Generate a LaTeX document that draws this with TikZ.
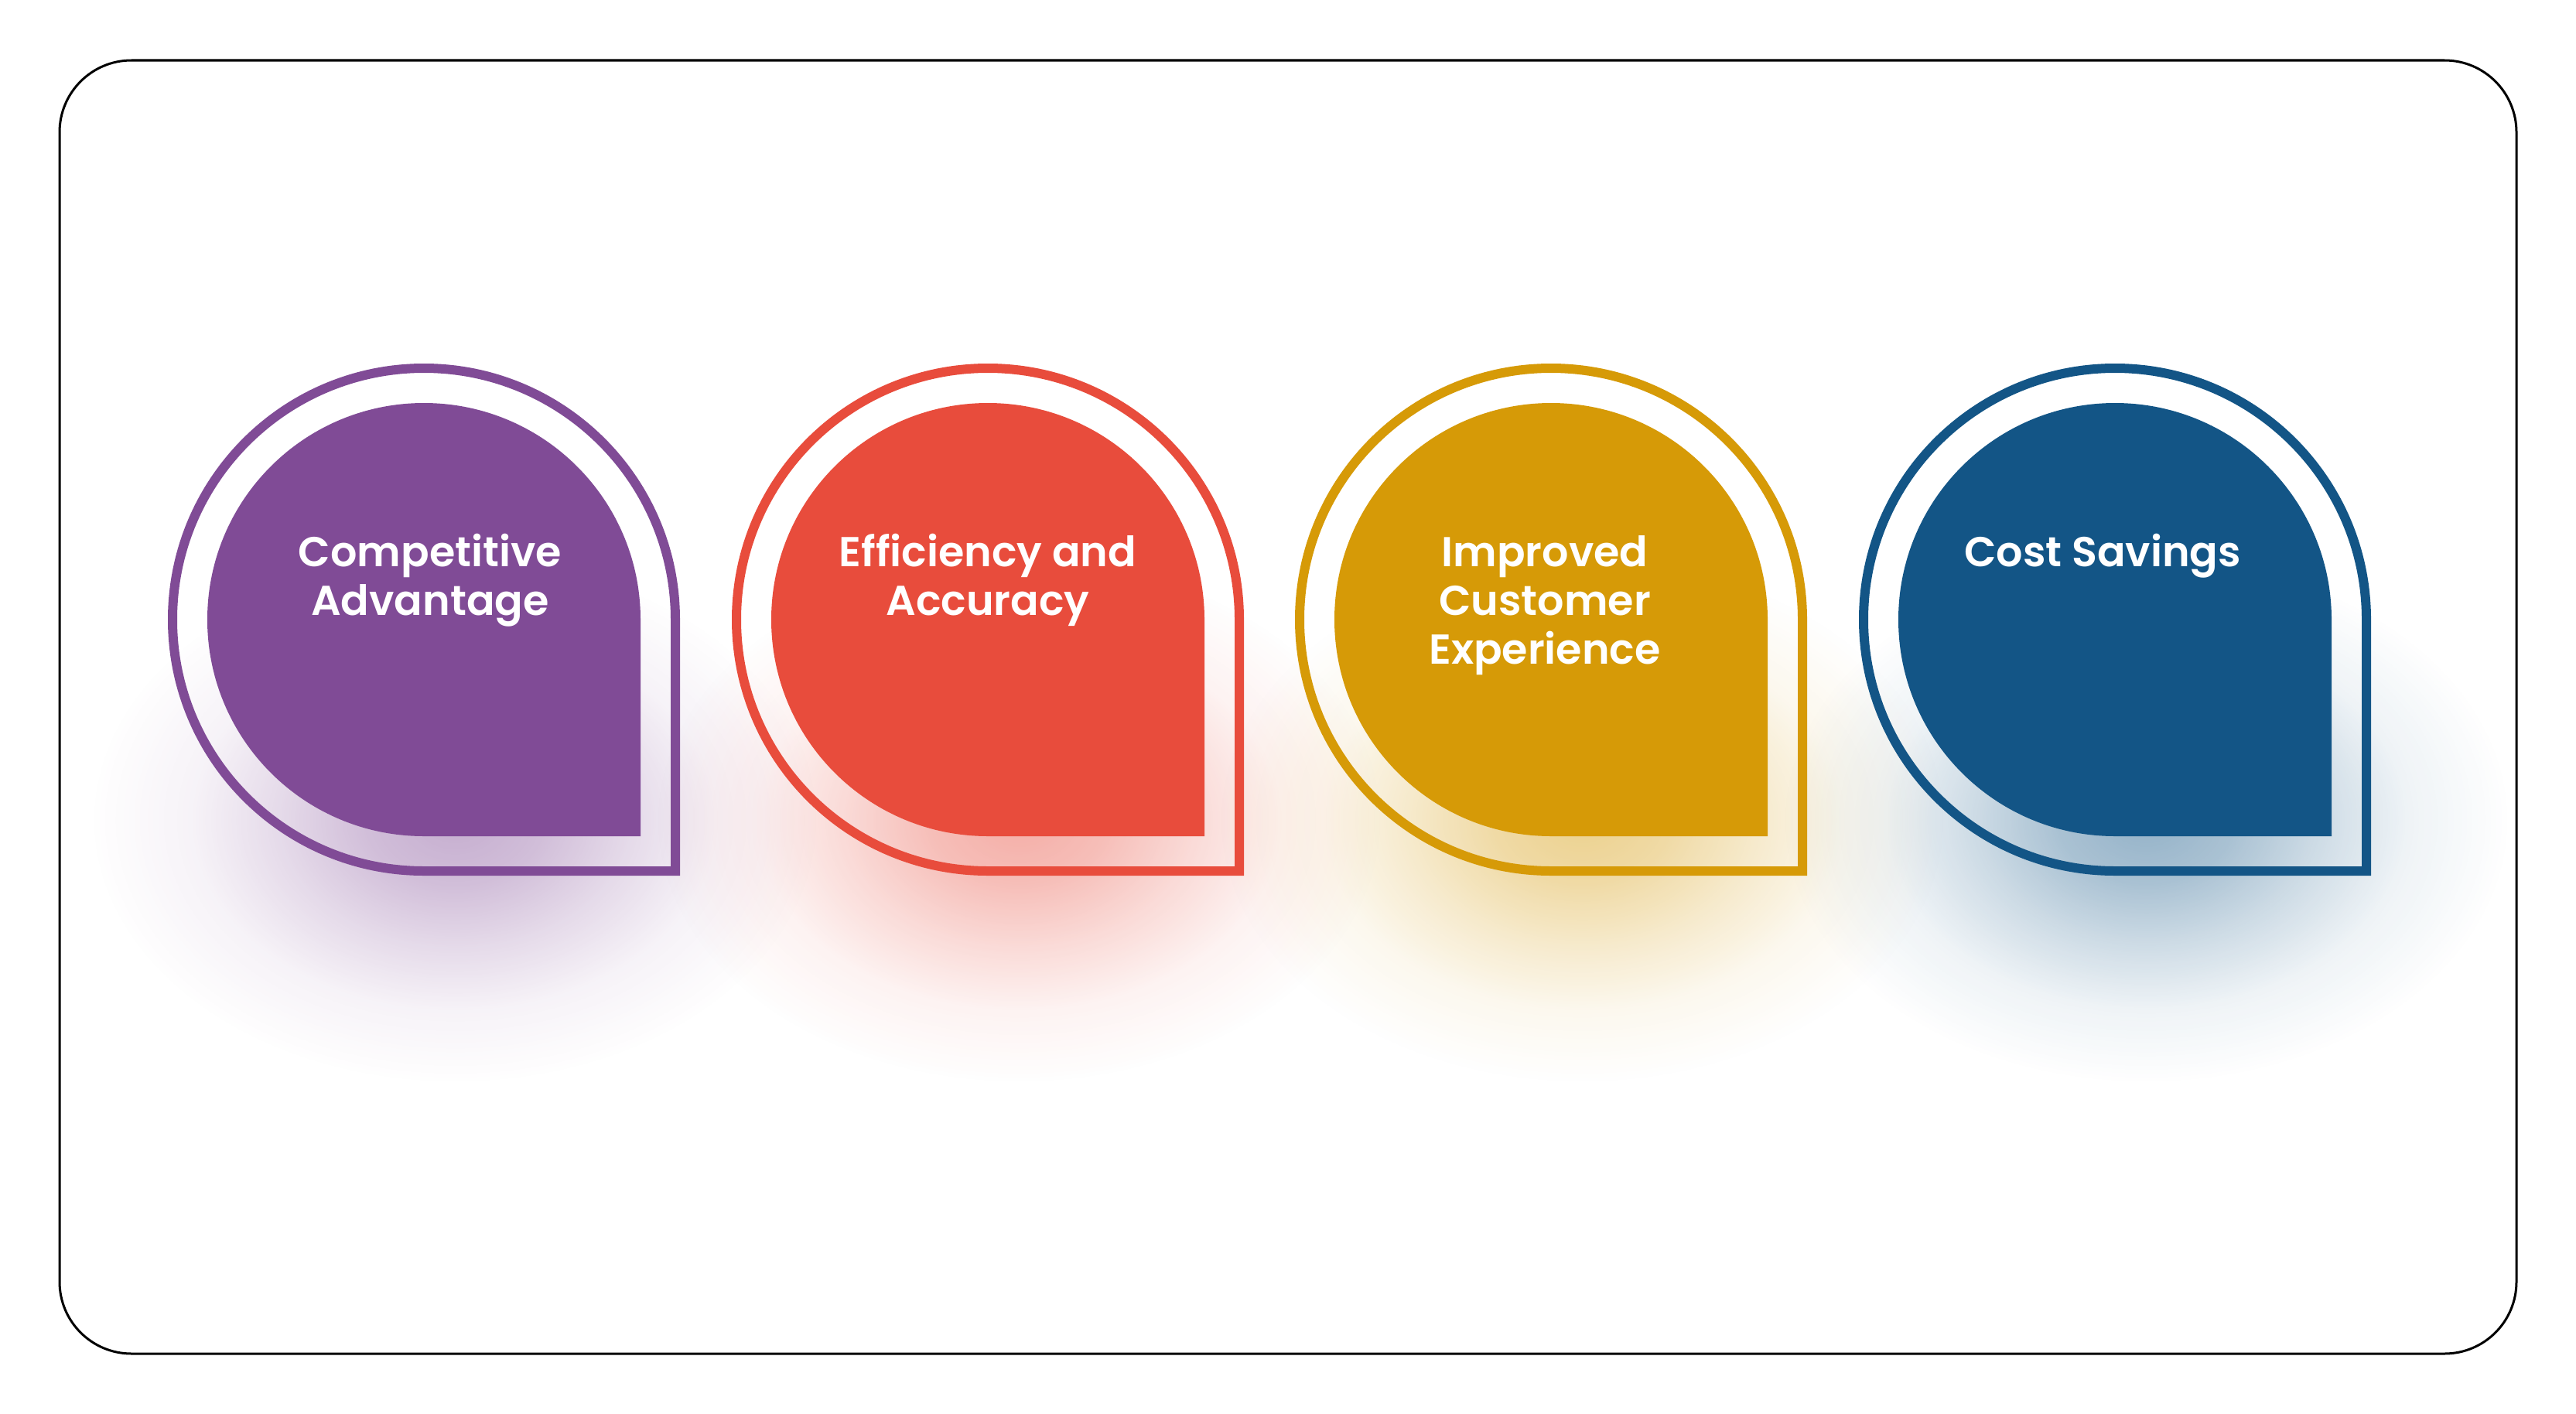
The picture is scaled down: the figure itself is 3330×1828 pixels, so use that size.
\documentclass[tikz,border=0pt]{standalone}
\usepackage{fontspec}
\newfontfamily\popfont{Poppins SemiBold}
\usetikzlibrary{fadings}
\definecolor{cpurple}{RGB}{128,75,150}
\definecolor{cred}{RGB}{232,76,60}
\definecolor{cgold}{RGB}{214,154,7}
\definecolor{cblue}{RGB}{19,85,134}
\pgfdeclareradialshading{glowshade}{\pgfpointorigin}{rgb(0bp)=(1,1,1); rgb(6bp)=(0.8,0.8,0.8); rgb(12bp)=(0.45,0.45,0.45); rgb(18bp)=(0.15,0.15,0.15); rgb(25bp)=(0,0,0); rgb(50bp)=(0,0,0)}
\pgfdeclarefading{glowfade}{\pgfuseshading{glowshade}}
\begin{document}
\begin{tikzpicture}[x=1pt,y=-1pt,
  ring/.style={line width=12pt},
  lbl/.style={text=white, align=center, anchor=base, inner sep=0pt,
    font=\popfont\fontsize{54}{63}\selectfont},
  glow/.style={fill opacity=0.45, path fading=glowfade}]
\useasboundingbox (0,0) rectangle (3330,1828);
\fill[white] (0,0) rectangle (3330,1828);
% glows
\foreach \cx/\col in {548/cpurple,1277/cred,2005/cgold,2734/cblue}{
  \fill[\col, glow] (\cx+40,1060) ellipse [x radius=470, y radius=340];
}
% frame
\node[draw=black, line width=3pt, rounded corners=93pt, minimum width=3176pt, minimum height=1672pt, inner sep=0pt] (frame) at (1665,914) {};
% petals
\foreach \cx/\col in {548/cpurple,1277/cred,2005/cgold,2734/cblue}{
  \draw[ring, draw=\col] (\cx+325,801) arc[start angle=0,end angle=-270,radius=325] -- (\cx+325,1126) -- cycle;
  \fill[\col] (\cx+280,801) arc[start angle=0,end angle=-270,radius=280] -- (\cx+280,1081) -- cycle;
}
% labels (anchored at the baseline of their last line)
\node[lbl] (t1) at (556,795) {Competitive\\Advantage};
\node[lbl] (t2) at (1277,795) {Efficiency and\\Accuracy};
\node[lbl] (t3) at (1997,858) {Improved\\Customer\\Experience};
\node[lbl] (t4) at (2718,732) {Cost Savings};
\end{tikzpicture}
\end{document}
